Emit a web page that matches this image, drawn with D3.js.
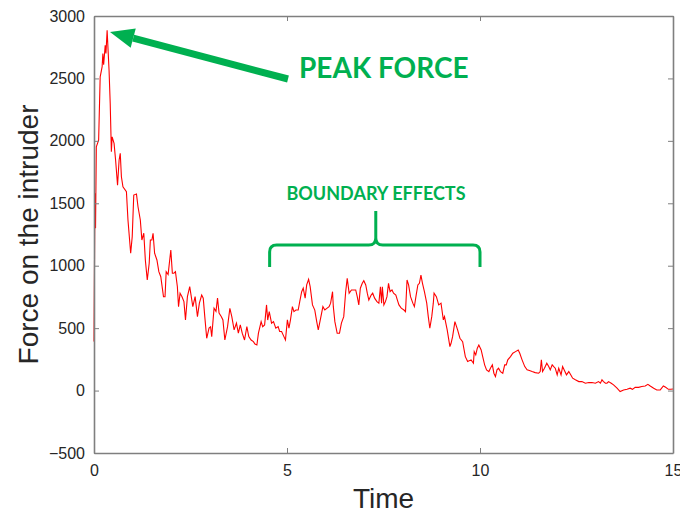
<!DOCTYPE html>
<html>
<head>
<meta charset="utf-8">
<script src="https://d3js.org/d3.v7.min.js"></script>
<style>
  body { margin: 0; background: #fff; }
</style>
</head>
<body>
<svg id="chart" width="680" height="514"></svg>
<script>
// time samples
var time = [0, 0.02, 0.03, 0.04, 0.06, 0.12, 0.16, 0.21, 0.23, 0.25, 0.29, 0.31, 0.34, 0.39, 0.42, 0.45, 0.47, 0.52, 0.56,
  0.61, 0.65, 0.68, 0.71, 0.75, 0.84, 0.88, 0.95, 0.99, 1.03, 1.10, 1.14, 1.20, 1.24, 1.29, 1.33, 1.38, 1.43, 1.46, 1.50,
  1.53, 1.57, 1.63, 1.68, 1.73, 1.80, 1.84, 1.87, 1.92, 1.99, 2.03, 2.07, 2.11, 2.16, 2.19, 2.23, 2.28, 2.33, 2.37, 2.42,
  2.48, 2.56, 2.62, 2.68, 2.73, 2.79, 2.83, 2.87, 2.92, 2.98, 3.02, 3.05, 3.11, 3.16, 3.20, 3.24, 3.30, 3.34, 3.39, 3.46,
  3.52, 3.57, 3.63, 3.69, 3.74, 3.79, 3.84, 3.90, 3.96, 4.01, 4.07, 4.13, 4.17, 4.22, 4.26, 4.33, 4.37, 4.42, 4.47, 4.50,
  4.54, 4.60, 4.65, 4.71, 4.77, 4.81, 4.86, 4.92, 4.96, 5.01, 5.05, 5.09, 5.14, 5.18, 5.23, 5.29, 5.33, 5.38, 5.42, 5.47,
  5.51, 5.56, 5.60, 5.66, 5.72, 5.77, 5.81, 5.87, 5.93, 5.98, 6.04, 6.09, 6.13, 6.18, 6.20, 6.24, 6.30, 6.36, 6.41, 6.47,
  6.52, 6.56, 6.61, 6.67, 6.73, 6.78, 6.82, 6.86, 6.90, 6.95, 6.99, 7.04, 7.08, 7.12, 7.18, 7.22, 7.27, 7.33, 7.38, 7.42,
  7.45, 7.47, 7.51, 7.55, 7.59, 7.63, 7.67, 7.72, 7.76, 7.82, 7.86, 7.90, 7.96, 8.03, 8.07, 8.11, 8.15, 8.20, 8.26, 8.30,
  8.34, 8.39, 8.43, 8.47, 8.51, 8.56, 8.62, 8.66, 8.70, 8.75, 8.79, 8.81, 8.87, 8.93, 8.99, 9.05, 9.08, 9.15, 9.22, 9.25,
  9.29, 9.35, 9.42, 9.48, 9.55, 9.62, 9.68, 9.77, 9.83, 9.85, 9.89, 9.93, 9.97, 10.03, 10.07, 10.12, 10.17, 10.23, 10.27,
  10.32, 10.36, 10.40, 10.44, 10.48, 10.53, 10.59, 10.64, 10.68, 10.72, 10.79, 10.85, 10.92, 10.99, 11.03, 11.09, 11.16,
  11.22, 11.28, 11.35, 11.43, 11.52, 11.56, 11.59, 11.62, 11.67, 11.73, 11.78, 11.82, 11.87, 11.91, 11.95, 12.00, 12.04,
  12.10, 12.14, 12.20, 12.24, 12.30, 12.35, 12.40, 12.47, 12.56, 12.64, 12.73, 12.82, 12.90, 12.99, 13.07, 13.12, 13.16,
  13.20, 13.25, 13.29, 13.33, 13.40, 13.46, 13.55, 13.63, 13.72, 13.81, 13.89, 13.95, 14.02, 14.11, 14.19, 14.28, 14.35,
  14.41, 14.50, 14.58, 14.67, 14.75, 14.81, 14.88, 14.94, 15.0];

// force on the intruder at each time sample
var force = [392, 1366, 1580, 1300, 1952, 2005, 2512, 2592, 2700, 2610, 2765, 2700, 2885, 2565, 2300, 1912, 2032, 1980, 1845,
  1645, 1845, 1900, 1712, 1632, 1592, 1366, 1100, 1232, 1566, 1575, 1472, 1366, 1206, 1260, 1046, 886, 1020, 1206, 1206,
  1260, 1100, 1046, 952, 912, 752, 752, 952, 930, 1126, 940, 940, 952, 832, 672, 780, 752, 712, 566, 752,
  832, 672, 752, 592, 700, 765, 740, 592, 419, 500, 510, 432, 660, 635, 740, 620, 592, 566, 405, 512,
  659, 592, 486, 540, 460, 526, 460, 405, 512, 432, 405, 392, 373, 365, 460, 552, 512, 526, 686, 565,
  632, 540, 552, 500, 512, 473, 473, 432, 405, 566, 500, 566, 672, 632, 645, 645, 712, 792, 820, 740,
  846, 891, 832, 686, 645, 552, 486, 579, 672, 645, 660, 672, 700, 792, 672, 552, 459, 460, 540, 592,
  792, 899, 780, 806, 806, 806, 752, 686, 820, 859, 880, 846, 780, 725, 765, 780, 740, 712, 700, 832,
  700, 832, 686, 712, 752, 859, 792, 806, 780, 765, 725, 686, 660, 645, 632, 886, 846, 752, 700, 672,
  752, 846, 859, 925, 859, 792, 700, 592, 499, 592, 700, 780, 752, 686, 700, 566, 592, 486, 352, 379,
  432, 552, 486, 419, 392, 272, 232, 246, 219, 312, 286, 339, 365, 325, 272, 206, 166, 152, 179,
  206, 139, 112, 166, 179, 152, 139, 206, 206, 246, 272, 299, 312, 325, 299, 246, 192,
  166, 160, 152, 144, 139, 152, 246, 152, 179, 219, 192, 166, 206, 192, 179, 126, 179,
  126, 192, 152, 126, 152, 126, 99, 86, 72, 72, 59, 64, 64, 59, 72, 59, 86,
  72, 59, 59, 72, 59, 46, 19, -8, 5, 10, 19, 10, 26, 26, 32, 37, 50,
  37, 19, 5, 5, 37, 26, 10, 10, 12];

var xTicks = [0, 5, 10, 15];
var yTicks = [-500, 0, 500, 1000, 1500, 2000, 2500, 3000];

var svg = d3.select("#chart"),
    margin = {top: 16, right: 7, bottom: 61, left: 94},
    width = +svg.attr("width") - margin.left - margin.right,
    height = +svg.attr("height") - margin.top - margin.bottom;

var x = d3.scaleLinear().domain([0, 15]).range([0, width]);
var y = d3.scaleLinear().domain([-500, 3000]).range([height, 0]);

var g = svg.append("g").attr("transform", "translate(" + margin.left + "," + margin.top + ")");

var axisColor = "#7f7f7f";
var labelColor = "#262626";
var fmt = d3.format("d");

// the data line
var line = d3.line()
    .x(function (d, i) { return x(time[i]); })
    .y(function (d) { return y(d); });

g.append("path")
    .datum(force)
    .attr("d", line)
    .attr("fill", "none")
    .attr("stroke", "#ff0000")
    .attr("stroke-width", 1.1);

// axes (box style, ticks pointing inwards)
function styleAxis(sel) {
    sel.select(".domain").attr("stroke", axisColor).attr("stroke-width", 1.6);
    sel.selectAll(".tick line").attr("stroke", axisColor).attr("stroke-width", 1);
    sel.selectAll(".tick text")
        .attr("fill", labelColor)
        .style("font-family", "'Liberation Sans', Arial, sans-serif")
        .style("font-size", "16px");
}

g.append("g")
    .attr("transform", "translate(0," + height + ")")
    .call(d3.axisBottom(x).tickValues(xTicks).tickFormat(fmt).tickSizeInner(-5).tickSizeOuter(0).tickPadding(12))
    .call(styleAxis);

g.append("g")
    .call(d3.axisTop(x).tickValues(xTicks).tickSizeInner(-5).tickSizeOuter(0).tickFormat(""))
    .call(styleAxis);

g.append("g")
    .call(d3.axisLeft(y).tickValues(yTicks).tickFormat(fmt).tickSizeInner(-5).tickSizeOuter(0).tickPadding(9))
    .call(styleAxis);

g.append("g")
    .attr("transform", "translate(" + width + ",0)")
    .call(d3.axisRight(y).tickValues(yTicks).tickSizeInner(-5).tickSizeOuter(0).tickFormat(""))
    .call(styleAxis);

// axis titles
svg.append("text")
    .attr("x", margin.left + width / 2)
    .attr("y", 508)
    .attr("text-anchor", "middle")
    .attr("fill", labelColor)
    .style("font-family", "'Liberation Sans', Arial, sans-serif")
    .style("font-size", "28px")
    .text("Time");

svg.append("text")
    .attr("transform", "translate(38," + (margin.top + height / 2) + ") rotate(-90)")
    .attr("text-anchor", "middle")
    .attr("fill", labelColor)
    .style("font-family", "'Liberation Sans', Arial, sans-serif")
    .style("font-size", "28px")
    .text("Force on the intruder");

// annotations
var green = "#00b050";

// peak arrow
var tip = [110, 32], tail = [288, 79];
var ang = Math.atan2(tail[1] - tip[1], tail[0] - tip[0]);
var headLen = 24, headHalf = 10;
var bx = tip[0] + headLen * Math.cos(ang), by = tip[1] + headLen * Math.sin(ang);
svg.append("line")
    .attr("x1", bx).attr("y1", by)
    .attr("x2", tail[0]).attr("y2", tail[1])
    .attr("stroke", green)
    .attr("stroke-width", 7);
svg.append("path")
    .attr("d", "M" + tip[0] + "," + tip[1] +
        "L" + (bx - headHalf * Math.sin(ang)) + "," + (by + headHalf * Math.cos(ang)) +
        "L" + (bx + headHalf * Math.sin(ang)) + "," + (by - headHalf * Math.cos(ang)) + "Z")
    .attr("fill", green);

svg.append("text")
    .attr("x", 299)
    .attr("y", 78)
    .attr("fill", green)
    .style("font-family", "Lato, 'Open Sans', sans-serif")
    .style("font-weight", "bold")
    .style("font-size", "28px")
    .text("PEAK FORCE");

svg.append("text")
    .attr("x", 376)
    .attr("y", 200)
    .attr("text-anchor", "middle")
    .attr("fill", green)
    .style("font-family", "Lato, 'Open Sans', sans-serif")
    .style("font-weight", "bold")
    .style("font-size", "18px")
    .text("BOUNDARY EFFECTS");

// curly bracket over the boundary region
var bl = x(4.55) + margin.left, br = x(10.0) + margin.left, bm = x(7.3) + margin.left;
var bTop = 245, bLow = 267, bPeak = 211, r = 7;
svg.append("path")
    .attr("d",
        "M" + bl + "," + bLow +
        "L" + bl + "," + (bTop + r) +
        "Q" + bl + "," + bTop + " " + (bl + r) + "," + bTop +
        "L" + (bm - r) + "," + bTop +
        "Q" + bm + "," + bTop + " " + bm + "," + (bTop - r) +
        "L" + bm + "," + bPeak +
        "M" + bm + "," + (bTop - r) +
        "Q" + bm + "," + bTop + " " + (bm + r) + "," + bTop +
        "L" + (br - r) + "," + bTop +
        "Q" + br + "," + bTop + " " + br + "," + (bTop + r) +
        "L" + br + "," + bLow)
    .attr("fill", "none")
    .attr("stroke", green)
    .attr("stroke-width", 3);
</script>
</body>
</html>
